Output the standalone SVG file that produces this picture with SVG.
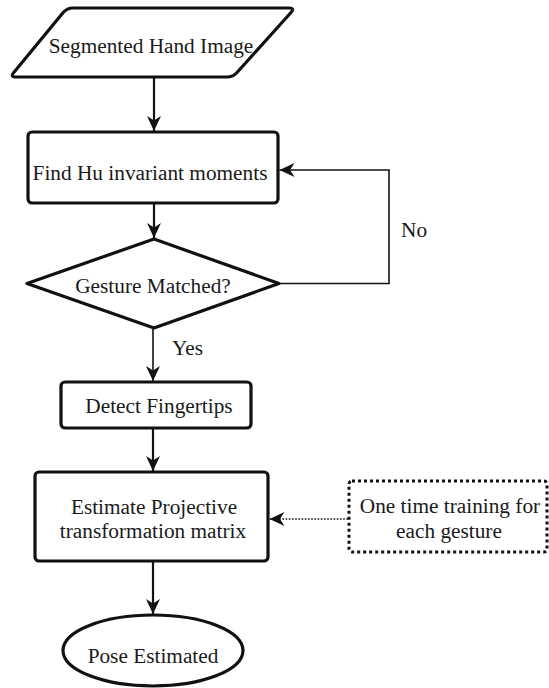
<svg xmlns="http://www.w3.org/2000/svg" width="549" height="688" viewBox="0 0 549 688">
  <defs>
    <marker id="arrow" markerUnits="userSpaceOnUse" markerWidth="18" markerHeight="16" refX="15" refY="7" orient="auto">
      <path d="M0,0 L15,7 L0,14 L4.5,7 z" fill="#111"/>
    </marker>
  </defs>
  <style>
    .shape { fill: #fff; stroke: #111; stroke-width: 3.2; stroke-linejoin: round; }
    .dotted { fill: #fff; stroke: #111; stroke-width: 3; stroke-dasharray: 3 3; }
    .edge { fill: none; stroke: #111; stroke-width: 2.2; marker-end: url(#arrow); }
    .thin { fill: none; stroke: #111; stroke-width: 1.6; marker-end: url(#arrow); }
    .dots { fill: none; stroke: #111; stroke-width: 1.6; stroke-dasharray: 1.6 1.6; marker-end: url(#arrow); }
    .t { font-size: 21.3px; fill: #1a1a1a; text-anchor: middle; }
    .lbl { text-anchor: start; }
  </style>

  <g font-family="Liberation Serif, Tinos, Times New Roman, DejaVu Serif, serif">
  <g id="connectors">
    <line class="edge" x1="154" y1="78" x2="154" y2="131"/>
    <line class="edge" x1="154" y1="204" x2="154" y2="238"/>
    <line class="thin" x1="153" y1="329" x2="153" y2="381"/>
    <line class="edge" x1="153" y1="429" x2="153" y2="471"/>
    <line class="edge" x1="153" y1="562" x2="153" y2="614"/>
    <polyline class="thin" points="279,283.5 389,283.5 389,170 279.5,170"/>
    <line class="dots" x1="348" y1="519" x2="269.5" y2="519"/>
    <text class="t lbl" x="401" y="237">No</text>
    <text class="t lbl" x="172" y="355">Yes</text>
  </g>

  <g id="segmented-hand-image">
    <!-- parallelogram with softened corners -->
    <path class="shape" d="M73,8 L289,8 Q295,8 291,12.5 L237,72.5 Q233,77 227,77 L16,77 Q10,77 13.8,72.4 L63.2,12.6 Q67,8 73,8 Z"/>
    <text class="t" x="151" y="53">Segmented Hand Image</text>
  </g>

  <g id="find-hu-moments">
    <rect class="shape" x="28" y="132" width="250" height="71" rx="4"/>
    <text class="t" x="150" y="180">Find Hu invariant moments</text>
  </g>

  <g id="gesture-matched">
    <polygon class="shape" points="154,239 279,283.5 154,328 27,283.5"/>
    <text class="t" x="153" y="293">Gesture Matched?</text>
  </g>

  <g id="detect-fingertips">
    <rect class="shape" x="61" y="382" width="190" height="46" rx="4"/>
    <text class="t" x="159" y="413">Detect Fingertips</text>
  </g>

  <g id="estimate-projective">
    <rect class="shape" x="35" y="472" width="233" height="89" rx="4"/>
    <text class="t" x="154" y="514">Estimate Projective</text>
    <text class="t" x="153" y="538">transformation matrix</text>
  </g>

  <g id="one-time-training">
    <rect class="dotted" x="349" y="481" width="198" height="71" rx="3"/>
    <text class="t" x="450" y="513">One time training for</text>
    <text class="t" x="449" y="538">each gesture</text>
  </g>

  <g id="pose-estimated">
    <ellipse class="shape" cx="153" cy="650.5" rx="90" ry="35.5"/>
    <text class="t" x="153" y="663">Pose Estimated</text>
  </g>
  </g>
</svg>
